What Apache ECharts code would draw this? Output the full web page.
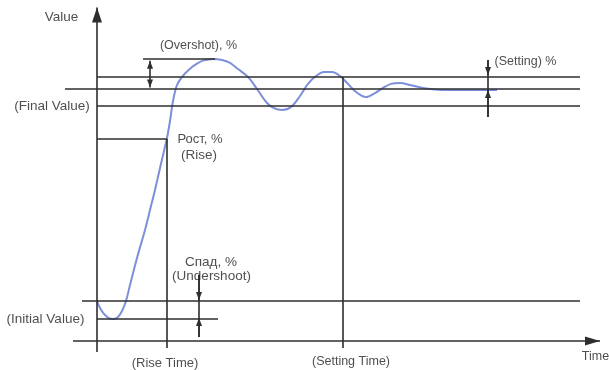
<!DOCTYPE html>
<html><head><meta charset="utf-8">
<script src="https://cdn.jsdelivr.net/npm/echarts@6/dist/echarts.min.js"></script>
<style>html,body{margin:0;padding:0;background:#fff}#c{width:609px;height:370px}</style>
</head><body><div id="c"></div>
<script>
// Step response curve (time units, normalised value: initial = 0, final = 1)
const curveTime = [0, 0.06, 0.14, 0.22, 0.32, 0.42, 0.50, 0.58, 0.66, 0.80, 0.96, 1.06, 1.16, 1.26, 1.34, 1.40, 1.46, 1.50, 1.54, 1.58, 1.62, 1.68, 1.76, 1.90, 2.00, 2.12, 2.32, 2.50, 2.66, 2.82, 3.02, 3.20, 3.40, 3.54, 3.70, 3.88, 4.06, 4.22, 4.38, 4.54, 4.70, 4.86, 5.02, 5.18, 5.38, 5.56, 5.72, 5.88, 6.06, 6.26, 6.52, 6.76, 7.00, 7.46, 8.00];
const curveValue = [0, -0.033, -0.061, -0.078, -0.085, -0.075, -0.047, 0, 0.075, 0.203, 0.335, 0.429, 0.524, 0.627, 0.708, 0.769, 0.849, 0.915, 0.967, 1.005, 1.028, 1.050, 1.073, 1.104, 1.120, 1.134, 1.142, 1.137, 1.123, 1.094, 1.057, 1.000, 0.934, 0.910, 0.901, 0.915, 0.967, 1.024, 1.061, 1.080, 1.080, 1.061, 1.024, 0.986, 0.962, 0.981, 1.005, 1.024, 1.028, 1.019, 1.005, 0.998, 0.995, 0.995, 0.995];

// Horizontal reference levels
const levelNames  = ['Overshoot peak', 'Upper band', 'Final value', 'Lower band', 'Rise level', 'Initial value', 'Undershoot'];
const levelValues = [1.1415, 1.0566, 1.0, 0.9222, 0.7642, 0, -0.0825];
const levelStart  = [0.92, 0, -0.64, 0, 0, -0.30, 0];
const levelEnd    = [2.36, 9.66, 9.66, 9.66, 1.40, 9.66, 2.42];

// Vertical reference lines
const vlineNames = ['Rise time', 'Setting time', 'Setting band', 'Undershoot'];
const vlineTimes = [1.40, 4.92, 7.82, 2.04];
const vlineFrom  = [0.7642, 1.0566, 1.1368, 0.1226];
const vlineTo    = [-0.2217, -0.2217, 0.8679, -0.1698];

// Axes
const axisTimeRange = [-0.48, 10.06];
const axisValueRange = [-0.2406, 1.385];
const axisBaseValue = -0.1887;

// Arrows [time, fromValue, toValue]
const arrowTimes = [7.82, 7.82, 2.04, 2.04];
const arrowFrom  = [1.1368, 0.8679, 0.1226, -0.1698];
const arrowTo    = [1.0660, 0.9953, 0.0047, -0.0802];
const overshootArrow = [1.06, 1.133, 1.007];

// Text labels
const labelTexts  = ['Value', '(Overshot), %', '(Final Value)', 'Рост, %', '(Rise)', '(Setting) %', 'Спад, %', '(Undershoot)', '(Initial Value)', '(Rise Time)', '(Setting Time)', 'Time'];
const labelTimes  = [-0.71, 2.03, -0.90, 2.06, 2.04, 8.57, 2.28, 2.29, -1.03, 1.36, 5.08, 9.97];
const labelValues = [1.3396, 1.2028, 0.9198, 0.7642, 0.6887, 1.1274, 0.1840, 0.1179, -0.0849, -0.2925, -0.2877, -0.2642];
// label font sizes (style)
const labelFontSizes = [13.5, 12.5, 13.5, 13, 13.5, 12.5, 13.5, 13.5, 13.5, 13, 12.5, 12.5];

const LINE = '#2e2e2e';
const small = [6, 8];
const ml = [];
levelValues.forEach((v, i) => ml.push([{coord: [levelStart[i], v]}, {coord: [levelEnd[i], v]}]));
vlineTimes.forEach((t, i) => ml.push([{coord: [t, vlineFrom[i]]}, {coord: [t, vlineTo[i]]}]));
ml.push([{coord: [axisTimeRange[0], axisBaseValue]}, {coord: [axisTimeRange[1], axisBaseValue], symbol: 'triangle', symbolSize: [9, 15], symbolOffset: [0, 7.5]}]);
ml.push([{coord: [0, axisValueRange[0]]}, {coord: [0, axisValueRange[1]], symbol: 'triangle', symbolSize: [10, 15], symbolOffset: [0, 7.5]}]);
arrowTimes.forEach((t, i) => ml.push([{coord: [t, arrowFrom[i]]}, {coord: [t, arrowTo[i]], symbol: 'triangle', symbolSize: small, symbolOffset: [0, 4]}]));
ml.push([{coord: [overshootArrow[0], overshootArrow[1]], symbol: 'triangle', symbolSize: small, symbolOffset: [0, 4]},
         {coord: [overshootArrow[0], overshootArrow[2]], symbol: 'triangle', symbolSize: small, symbolOffset: [0, 4]}]);

const chart = echarts.init(document.getElementById('c'), null, {renderer: 'canvas'});
chart.setOption({
  animation: false,
  backgroundColor: '#fff',
  grid: {left: 0, right: 0, top: 0, bottom: 0},
  xAxis: {type: 'value', min: -1.94, max: 10.24, show: false},
  yAxis: {type: 'value', min: -0.32547, max: 1.41981, show: false},
  series: [
    {
      type: 'line',
      data: curveTime.map((t, i) => [t, curveValue[i]]),
      smooth: 0.35,
      showSymbol: false,
      silent: true,
      lineStyle: {color: '#7d8fda', width: 2},
      z: 3,
      markLine: {
        silent: true,
        symbol: ['none', 'none'],
        label: {show: false},
        lineStyle: {color: LINE, width: 1.6, type: 'solid'},
        itemStyle: {color: LINE},
        emphasis: {disabled: true},
        data: ml
      }
    },
    {
      type: 'scatter',
      silent: true,
      symbolSize: 1,
      itemStyle: {color: 'rgba(0,0,0,0)'},
      z: 5,
      data: labelTimes.map((t, i) => ({value: [t, labelValues[i]], label: {fontSize: labelFontSizes[i]}})),
      label: {
        show: true,
        position: 'inside',
        formatter: p => labelTexts[p.dataIndex],
        color: '#222',
        fontSize: 12,
        fontFamily: 'Liberation Sans, Arial, sans-serif'
      }
    }
  ]
});
</script></body></html>
